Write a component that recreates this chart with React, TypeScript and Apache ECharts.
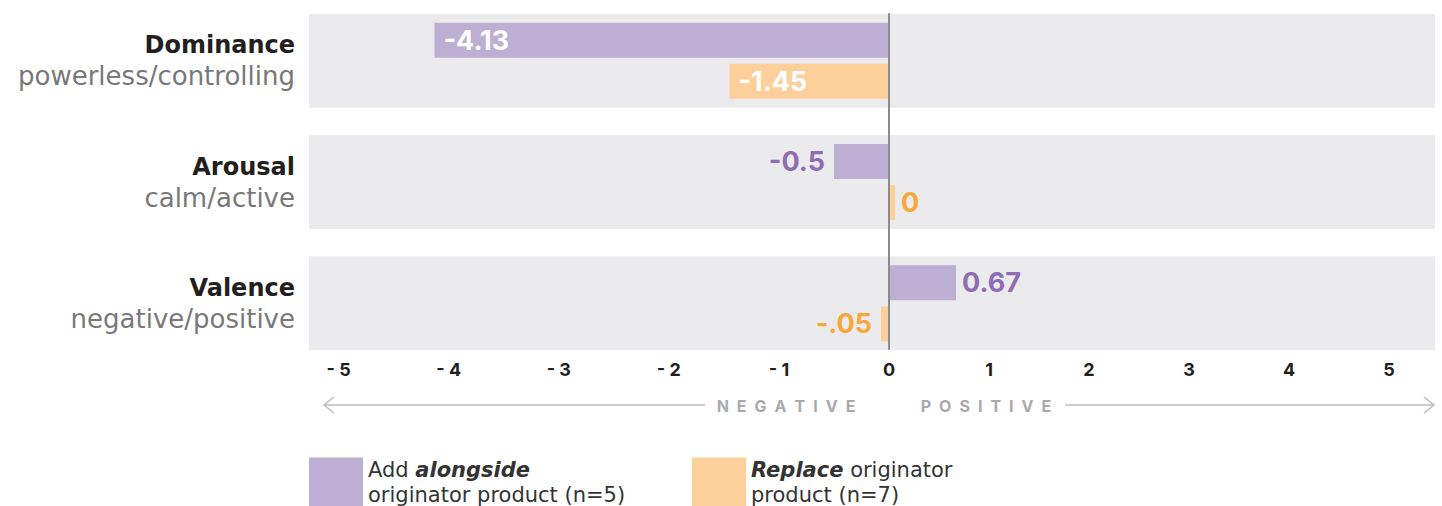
import React, { useEffect, useRef } from "react";
import * as echarts from "echarts";

const CATEGORIES = ["Dominance", "Arousal", "Valence"];
const SUBTITLES = ["powerless/controlling", "calm/active", "negative/positive"];
const ADD_VALUES = [-4.13, -0.5, 0.67];
const ADD_LABELS = ["-4.13", "-0.5", "0.67"];
const REPLACE_VALUES = [-1.45, 0, -0.05];
const REPLACE_LABELS = ["-1.45", "0", "-.05"];
const ADD_NAME = "Add alongside originator product (n=5)";
const REPLACE_NAME = "Replace originator product (n=7)";
const NEG_MIN = -5.27;
const POS_MAX = 5.46;

const FONT = "Inter, 'Noto Sans', sans-serif";
const TEXT_FONT = "'DejaVu Sans', Inter, sans-serif";
const PURPLE = "#bdaed3";
const PURPLE_TEXT = "#8f6cb4";
const ORANGE = "#fdd09b";
const ORANGE_TEXT = "#f6a83c";
const BAND = "#ebebed";

function labelFor(v: number, text: string, textColor: string) {
  const base = {
    show: true,
    formatter: () => text,
    fontFamily: FONT,
    fontWeight: "bold" as const,
    fontSize: 27,
  };
  if (Math.abs(v) >= 1) {
    return { ...base, position: "insideLeft", distance: 9, color: "#ffffff" };
  }
  if (v < 0) {
    return { ...base, position: "left", distance: 9, color: textColor };
  }
  return { ...base, position: "right", distance: 6, color: textColor };
}

function sideData(values: number[], labels: string[], textColor: string, negative: boolean) {
  return values.map((v, i) => {
    const onSide = negative ? v < 0 : v >= 0;
    if (!onSide) return "-";
    return { value: v, label: labelFor(v, labels[i], textColor) };
  });
}

export default function App() {
  const ref = useRef<HTMLDivElement>(null);

  useEffect(() => {
    if (!ref.current) return;
    const chart = echarts.init(ref.current, undefined, { renderer: "svg" });

    const hiddenCat = (gridIndex: number) => ({
      type: "category",
      gridIndex,
      data: CATEGORIES,
      inverse: true,
      show: false,
    });

    const xLabel = {
      fontFamily: FONT,
      fontWeight: "bold",
      fontSize: 18,
      color: "#231f20",
      margin: -5,
      lineHeight: 20,
    };

    const barCommon = {
      type: "bar",
      barWidth: 35,
      barGap: "17%",
      z: 3,
    };

    const legendCommon = {
      top: 457,
      padding: 0,
      itemWidth: 54,
      itemHeight: 49,
      icon: "rect",
      selectedMode: false,
      itemGap: 0,
      textStyle: {
        fontFamily: TEXT_FONT,
        fontSize: 21,
        lineHeight: 25,
        color: "#333333",
        rich: {
          bi: {
            fontFamily: TEXT_FONT,
            fontSize: 21,
            lineHeight: 25,
            fontWeight: "bold",
            fontStyle: "italic",
            color: "#333333",
          },
        },
      },
      formatter: (name: string) =>
        name === ADD_NAME
          ? "Add {bi|alongside}\noriginator product (n=5)"
          : "{bi|Replace} originator\nproduct (n=7)",
    };

    const arrowText = {
      fontFamily: FONT,
      fontWeight: "bold",
      fontSize: 16,
      fill: "#a9a9ad",
      align: "center",
      verticalAlign: "middle",
    };

    chart.setOption({
      animation: false,
      grid: [
        { left: 309, width: 580, top: 0, height: 364 },
        { left: 889, width: 546, top: 0, height: 364 },
        { left: 889, width: 1, top: 14, height: 335 },
      ],
      xAxis: [
        {
          type: "value",
          gridIndex: 0,
          min: NEG_MIN,
          max: 0,
          splitNumber: 5,
          axisLine: { show: false },
          axisTick: { show: false },
          splitLine: { show: false },
          axisLabel: {
            ...xLabel,
            showMinLabel: false,
            showMaxLabel: true,
            formatter: (v: number) =>
              Number.isInteger(v) ? (v === 0 ? "0" : "- " + Math.abs(v)) : "",
          },
        },
        {
          type: "value",
          gridIndex: 1,
          min: 0,
          max: POS_MAX,
          splitNumber: 5,
          axisLine: { show: false },
          axisTick: { show: false },
          splitLine: { show: false },
          axisLabel: {
            ...xLabel,
            showMaxLabel: false,
            formatter: (v: number) =>
              Number.isInteger(v) && v !== 0 ? String(v) : "",
          },
        },
        { type: "value", gridIndex: 2, min: 0, max: 1, show: false },
      ],
      yAxis: [
        {
          type: "category",
          gridIndex: 0,
          data: CATEGORIES,
          inverse: true,
          axisLine: { show: false },
          axisTick: { show: false },
          axisLabel: {
            margin: 14,
            align: "right",
            formatter: (v: string) => {
              const i = CATEGORIES.indexOf(v);
              return "{t|" + v + "}\n{s|" + SUBTITLES[i] + "}";
            },
            rich: {
              t: {
                fontFamily: TEXT_FONT,
                fontWeight: "bold",
                fontSize: 24,
                lineHeight: 31,
                color: "#231f20",
                align: "right",
              },
              s: {
                fontFamily: TEXT_FONT,
                fontWeight: "normal",
                fontSize: 26,
                lineHeight: 31,
                color: "#78787a",
                align: "right",
              },
            },
          },
        },
        hiddenCat(0),
        hiddenCat(1),
        hiddenCat(1),
        {
          type: "value",
          gridIndex: 2,
          min: 0,
          max: 1,
          z: 10,
          axisLine: { show: true, lineStyle: { color: "#8b8b8d", width: 2 } },
          axisTick: { show: false },
          axisLabel: { show: false },
          splitLine: { show: false },
        },
      ],
      legend: [
        { ...legendCommon, left: 309, data: [ADD_NAME] },
        { ...legendCommon, left: 692, data: [REPLACE_NAME] },
      ],
      graphic: [
        {
          type: "line",
          shape: { x1: 324, y1: 405, x2: 705, y2: 405 },
          style: { stroke: "#bdbdbf", lineWidth: 1.5 },
        },
        {
          type: "polyline",
          shape: { points: [[334, 397], [324, 405], [334, 413]] },
          style: { stroke: "#bdbdbf", lineWidth: 1.5, fill: "none" },
        },
        {
          type: "text",
          x: 786,
          y: 406,
          style: { ...arrowText, text: "N\u2002E\u2002G\u2002A\u2002T\u2002I\u2002V\u2002E" },
        },
        {
          type: "text",
          x: 986,
          y: 406,
          style: { ...arrowText, text: "P\u2002O\u2002S\u2002I\u2002T\u2002I\u2002V\u2002E" },
        },
        {
          type: "line",
          shape: { x1: 1065, y1: 405, x2: 1434, y2: 405 },
          style: { stroke: "#bdbdbf", lineWidth: 1.5 },
        },
        {
          type: "polyline",
          shape: { points: [[1424, 397], [1434, 405], [1424, 413]] },
          style: { stroke: "#bdbdbf", lineWidth: 1.5, fill: "none" },
        },
      ],
      series: [
        {
          type: "bar",
          name: "bandLeft",
          xAxisIndex: 0,
          yAxisIndex: 1,
          barWidth: 94,
          silent: true,
          z: 1,
          itemStyle: { color: BAND },
          data: CATEGORIES.map(() => NEG_MIN),
        },
        {
          type: "bar",
          name: "bandRight",
          xAxisIndex: 1,
          yAxisIndex: 3,
          barWidth: 94,
          silent: true,
          z: 1,
          itemStyle: { color: BAND },
          data: CATEGORIES.map(() => POS_MAX),
        },
        {
          ...barCommon,
          name: ADD_NAME,
          xAxisIndex: 0,
          yAxisIndex: 0,
          itemStyle: { color: PURPLE },
          data: sideData(ADD_VALUES, ADD_LABELS, PURPLE_TEXT, true),
        },
        {
          ...barCommon,
          name: REPLACE_NAME,
          xAxisIndex: 0,
          yAxisIndex: 0,
          barMinHeight: 8,
          itemStyle: { color: ORANGE },
          data: sideData(REPLACE_VALUES, REPLACE_LABELS, ORANGE_TEXT, true),
        },
        {
          ...barCommon,
          name: ADD_NAME,
          xAxisIndex: 1,
          yAxisIndex: 2,
          itemStyle: { color: PURPLE },
          data: sideData(ADD_VALUES, ADD_LABELS, PURPLE_TEXT, false),
        },
        {
          ...barCommon,
          name: REPLACE_NAME,
          xAxisIndex: 1,
          yAxisIndex: 2,
          barMinHeight: 6,
          itemStyle: { color: ORANGE },
          data: sideData(REPLACE_VALUES, REPLACE_LABELS, ORANGE_TEXT, false),
        },
      ],
    });

    return () => chart.dispose();
  }, []);

  return (
    <div
      ref={ref}
      style={{ position: "fixed", left: 0, top: 0, width: 1442, height: 506, background: "#ffffff" }}
    />
  );
}
